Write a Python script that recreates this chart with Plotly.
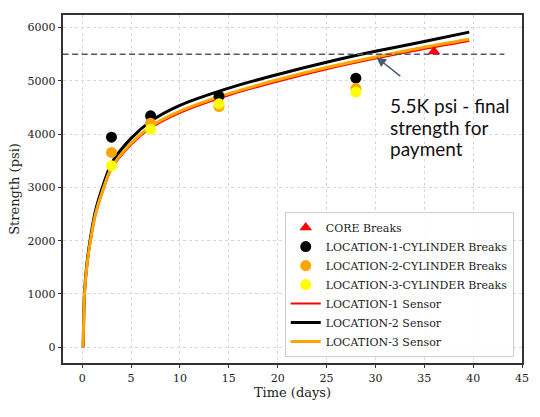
import plotly.graph_objects as go

# ---------------- data ----------------
break_days = [3, 7, 14, 28]
loc1_breaks = [3943, 4345, 4712, 5050]
loc2_breaks = [3656, 4206, 4519, 4855]
loc3_breaks = [3406, 4094, 4569, 4790]

core_days = [36]
core_breaks = [5550]

sensor_days = [0.1, 0.15, 0.24, 0.5, 0.85, 1.36, 2.2, 3, 5, 7, 10, 15, 20, 25, 30, 35, 39.6]
loc1_sensor = [0, 430, 975, 1520, 1970, 2470, 2970, 3345, 3800, 4110, 4400, 4730, 4990, 5220, 5420, 5600, 5750]
loc2_sensor = [0, 470, 1030, 1590, 2050, 2560, 3070, 3450, 3920, 4240, 4540, 4865, 5120, 5350, 5555, 5740, 5915]
loc3_sensor = [0, 450, 1000, 1550, 2000, 2500, 3000, 3370, 3830, 4140, 4430, 4760, 5020, 5250, 5450, 5630, 5780]

threshold = 5500
threshold_span = [-2, 43.2]
annotation_lines = ["5.5K psi - final", "strength for", "payment"]
arrow_tip = (30.1, 5445)
arrow_tail = (32.7, 5068)

x_ticks = list(range(0, 46, 5))
y_ticks = list(range(0, 6001, 1000))

SERIF = "DejaVu Serif"
fig = go.Figure()

# sensor curves
for name, ys, col, w, rank in [
    ("LOCATION-1 Sensor", loc1_sensor, "#FF0000", 2.0, 5),
    ("LOCATION-2 Sensor", loc2_sensor, "#000000", 3.0, 6),
    ("LOCATION-3 Sensor", loc3_sensor, "#FFA500", 3.0, 7),
]:
    fig.add_trace(go.Scatter(x=sensor_days, y=ys, mode="lines", name=name,
                             line=dict(color=col, width=w, shape="spline", smoothing=0.8),
                             legendrank=rank))

# threshold dashed line
fig.add_trace(go.Scatter(x=threshold_span, y=[threshold, threshold], mode="lines",
                         line=dict(color="#4a5a72", width=1.3, dash="6px,3.5px"),
                         showlegend=False, hoverinfo="skip"))

# breaks
fig.add_trace(go.Scatter(x=core_days, y=core_breaks, mode="markers", name="CORE Breaks",
                         marker=dict(symbol="triangle-up", size=11, color="#FF0000"),
                         legendrank=1))
for name, ys, col, rank in [
    ("LOCATION-1-CYLINDER Breaks", loc1_breaks, "#000000", 2),
    ("LOCATION-2-CYLINDER Breaks", loc2_breaks, "#FFA500", 3),
    ("LOCATION-3-CYLINDER Breaks", loc3_breaks, "#FFFF00", 4),
]:
    fig.add_trace(go.Scatter(x=break_days, y=ys, mode="markers", name=name,
                             marker=dict(symbol="circle", size=11, color=col),
                             legendrank=rank))

# arrow
fig.add_annotation(x=arrow_tip[0], y=arrow_tip[1], ax=arrow_tail[0], ay=arrow_tail[1],
                   xref="x", yref="y", axref="x", ayref="y", text="",
                   showarrow=True, arrowhead=2, arrowsize=1.3, arrowwidth=1.5,
                   arrowcolor="#4a5a72")
# text
for i, line in enumerate(annotation_lines):
    fig.add_annotation(x=31.3, y=4538 - i * 406, xref="x", yref="y", text=line,
                       showarrow=False, xanchor="left", yanchor="middle",
                       font=dict(family="Lato", size=19, color="#111"))

axis_common = dict(showline=True, linecolor="#333", linewidth=1.6, mirror=True,
                   ticks="outside", ticklen=3.5, tickwidth=1, tickcolor="#333",
                   showgrid=True, gridcolor="#d8d8d8", griddash="dot", gridwidth=1,
                   zeroline=False,
                   tickfont=dict(family=SERIF, size=11, color="#222"))

fig.update_xaxes(range=[-1.96, 45.0], tickvals=x_ticks,
                 title=dict(text="Time (days)", font=dict(family=SERIF, size=13, color="#222"), standoff=4),
                 **axis_common)
fig.update_yaxes(range=[-297, 6237], tickvals=y_ticks,
                 title=dict(text="Strength (psi)", font=dict(family=SERIF, size=13, color="#222"), standoff=5),
                 **axis_common)

fig.update_layout(
    width=540, height=417,
    margin=dict(l=62.5, r=17.8, t=15, b=54.3, pad=0),
    plot_bgcolor="white", paper_bgcolor="white",
    legend=dict(x=0.982, y=0.017, xanchor="right", yanchor="bottom",
                bgcolor="rgba(255,255,255,0.85)", bordercolor="#cccccc", borderwidth=1,
                font=dict(family=SERIF, size=11, color="#222"),
                itemwidth=30, tracegroupgap=0),
    showlegend=True,
)

fig.write_html("out.html", config={"displayModeBar": False},
               post_script="document.body.style.margin='0';")
